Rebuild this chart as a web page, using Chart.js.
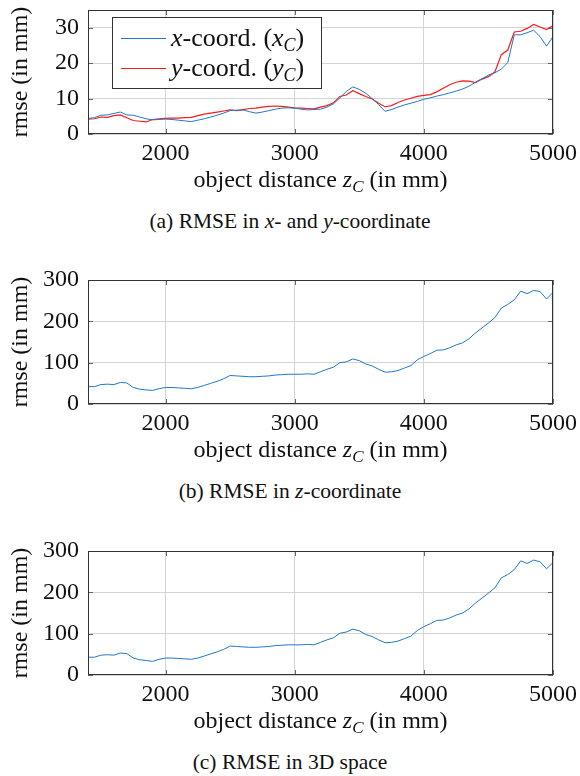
<!DOCTYPE html>
<html>
<head>
<meta charset="utf-8">
<script src="https://cdn.jsdelivr.net/npm/chart.js@4"></script>
<style>
  body { margin: 0; background: #fff; }
  .panel { position: absolute; left: 0; width: 580px; height: 270px; }
  .panel canvas { position: absolute; left: 0; top: 0; }
  .caption { position: absolute; left: 0; width: 580px; text-align: center;
             font: 21.5px 'Liberation Serif', serif; color: #111; }
</style>
</head>
<body>
<div class="panel" style="top:0px">
  <canvas id="chartA" width="580" height="200"></canvas>
  <div class="caption" style="top:209px">(a) RMSE in <i>x</i>- and <i>y</i>-coordinate</div>
</div>
<div class="panel" style="top:270px">
  <canvas id="chartB" width="580" height="200"></canvas>
  <div class="caption" style="top:209px">(b) RMSE in <i>z</i>-coordinate</div>
</div>
<div class="panel" style="top:541px">
  <canvas id="chartC" width="580" height="200"></canvas>
  <div class="caption" style="top:209px">(c) RMSE in 3D space</div>
</div>
<script>
const colorBlue = '#1f78c8';
const colorRed = '#ff1a1a';
const family = 'Liberation Serif';

Chart.defaults.font.family = family;

// object distance z_C (mm), shared by every curve
const distance = [
  1400, 1450, 1500, 1550, 1600, 1650, 1700, 1750, 1800, 1850,
  1900, 1950, 2000, 2050, 2100, 2150, 2200, 2250, 2300, 2350,
  2400, 2450, 2500, 2550, 2600, 2650, 2700, 2750, 2800, 2850,
  2900, 2950, 3000, 3050, 3100, 3150, 3200, 3250, 3300, 3350,
  3400, 3450, 3500, 3550, 3600, 3650, 3700, 3750, 3800, 3850,
  3900, 3950, 4000, 4050, 4100, 4150, 4200, 4250, 4300, 4350,
  4400, 4450, 4500, 4550, 4600, 4650, 4700, 4750, 4800, 4850,
  4900, 4950, 5000
];

const rmseX = [
  4.4, 4.6, 5.3, 5.4, 5.8, 6.2, 5.4, 5.3, 4.8, 4.3,
  4.0, 4.1, 4.2, 4.1, 3.9, 3.7, 3.5, 3.9, 4.3, 4.8,
  5.3, 5.9, 6.6, 6.7, 6.8, 6.3, 5.9, 6.2, 6.6, 7.0,
  7.3, 7.4, 7.3, 7.0, 6.8, 6.9, 7.0, 7.6, 8.5, 10.2,
  12.0, 13.3, 12.6, 11.5, 10.0, 8.3, 6.4, 6.9, 7.6, 8.2,
  8.7, 9.2, 9.8, 10.2, 10.7, 11.1, 11.6, 12.1, 12.7, 13.5,
  14.6, 15.6, 16.6, 17.3, 18.3, 20.2, 28.0, 28.0, 28.6, 29.3,
  27.5, 24.8, 27.5
];

const rmseY = [
  4.2, 4.3, 4.8, 4.7, 5.2, 5.4, 4.6, 3.8, 3.6, 3.4,
  4.1, 4.3, 4.4, 4.5, 4.5, 4.6, 4.7, 5.2, 5.6, 5.9,
  6.2, 6.5, 6.8, 6.6, 6.9, 7.2, 7.3, 7.6, 7.8, 7.9,
  7.8, 7.6, 7.4, 7.3, 7.2, 7.1, 7.6, 8.0, 8.8, 10.6,
  11.0, 12.2, 11.4, 10.6, 9.9, 8.7, 7.7, 8.0, 8.9, 9.6,
  10.1, 10.6, 10.9, 11.1, 11.9, 12.9, 13.9, 14.6, 15.0, 14.9,
  14.5, 15.5, 16.2, 17.5, 22.4, 23.7, 28.8, 29.0, 29.8, 30.9,
  30.2, 29.5, 30.6
];

const rmseZ = [
  42, 42, 47, 48, 47, 52, 51, 40, 36, 34,
  33, 37, 40, 40, 39, 38, 37, 40, 45, 50,
  55, 61, 69, 68, 67, 66, 66, 67, 68, 70,
  71, 72, 72, 72, 73, 72, 78, 84, 89, 100,
  102, 109, 105, 97, 92, 84, 77, 78, 81, 87,
  93, 107, 115, 122, 130, 131, 136, 143, 148, 158,
  172, 184, 196, 209, 232, 241, 252, 273, 267, 275,
  272, 254, 270
];

const rmse3d = [
  43, 43, 48, 49, 48, 53, 52, 41, 37, 35,
  33, 38, 41, 41, 40, 39, 38, 41, 46, 51,
  56, 62, 70, 69, 68, 67, 67, 68, 69, 71,
  72, 73, 73, 73, 74, 73, 79, 85, 90, 101,
  104, 111, 107, 98, 93, 85, 78, 79, 82, 88,
  94, 108, 117, 124, 132, 133, 138, 145, 150, 160,
  174, 186, 198, 211, 235, 243, 255, 276, 270, 278,
  274, 257, 272
];

const xTicks = [2000, 3000, 4000, 5000];
const yTicksXY = [0, 10, 20, 30];
const yTicksZ = [0, 100, 200, 300];

function points(values) {
  return distance.map((d, i) => ({ x: d, y: values[i] }));
}

// rich text: [text, style]  style '' = roman, 'i' = italic, 's' = italic subscript
function drawRich(ctx, parts, x, y, size, align) {
  const fontFor = p => p[1] === 's' ? `italic ${Math.round(size * 0.7)}px ${family}`
    : p[1] === 'i' ? `italic ${size}px ${family}` : `${size}px ${family}`;
  let w = 0;
  parts.forEach(p => { ctx.font = fontFor(p); w += ctx.measureText(p[0]).width; });
  let cx = align === 'center' ? x - w / 2 : x;
  ctx.textAlign = 'left';
  ctx.textBaseline = 'alphabetic';
  parts.forEach(p => {
    ctx.font = fontFor(p);
    ctx.fillText(p[0], cx, p[1] === 's' ? y + 5 : y);
    cx += ctx.measureText(p[0]).width;
  });
}

const decor = {
  id: 'decor',
  afterDatasetsDraw(chart) {
    const { ctx, chartArea: a, scales } = chart;
    ctx.save();
    // pgfplots style inner ticks
    ctx.strokeStyle = '#666';
    ctx.lineWidth = 1;
    ctx.beginPath();
    scales.x.ticks.forEach(t => {
      const px = Math.round(scales.x.getPixelForValue(t.value)) + 0.5;
      ctx.moveTo(px, a.bottom); ctx.lineTo(px, a.bottom - 5);
      ctx.moveTo(px, a.top); ctx.lineTo(px, a.top + 5);
    });
    scales.y.ticks.forEach(t => {
      const py = Math.round(scales.y.getPixelForValue(t.value)) + 0.5;
      ctx.moveTo(a.left, py); ctx.lineTo(a.left + 5, py);
      ctx.moveTo(a.right, py); ctx.lineTo(a.right - 5, py);
    });
    ctx.stroke();
    // frame
    ctx.strokeStyle = '#333';
    ctx.strokeRect(a.left + 0.5, a.top + 0.5, a.width - 1, a.height - 1);
    ctx.restore();
  },
  afterDraw(chart, args, opts) {
    const { ctx, chartArea: a } = chart;
    ctx.save();
    ctx.fillStyle = '#111';
    // x axis title
    drawRich(ctx, [['object distance ', ''], ['z', 'i'], ['C', 's'], [' (in mm)', '']],
      (a.left + a.right) / 2, 187, 24, 'center');
    // y axis title
    ctx.translate(27, (a.top + a.bottom) / 2);
    ctx.rotate(-Math.PI / 2);
    ctx.font = `24px ${family}`;
    ctx.textAlign = 'center';
    ctx.textBaseline = 'alphabetic';
    ctx.fillText('rmse (in mm)', 0, 0);
    ctx.restore();

    if (opts.legend) {
      ctx.save();
      const bx = 112, by = 17, bw = 209, bh = 71;
      ctx.fillStyle = '#fff';
      ctx.fillRect(bx, by, bw, bh);
      ctx.strokeStyle = '#333';
      ctx.lineWidth = 1;
      ctx.strokeRect(bx + 0.5, by + 0.5, bw, bh);
      chart.data.datasets.forEach((ds, i) => {
        const ly = 38 + i * 30;
        ctx.strokeStyle = ds.borderColor;
        ctx.lineWidth = ds.borderWidth;
        ctx.beginPath();
        ctx.moveTo(121, ly + 0.5); ctx.lineTo(166, ly + 0.5);
        ctx.stroke();
        ctx.fillStyle = '#111';
        drawRich(ctx, opts.legend[i], 171, ly + 8, 26, 'left');
      });
      ctx.restore();
    }
  }
};

function makeChart(id, datasets, yMax, yTicks, legend) {
  return new Chart(document.getElementById(id), {
    type: 'line',
    data: { datasets: datasets },
    plugins: [decor],
    options: {
      responsive: false,
      animation: false,
      layout: { padding: { left: 0, right: 27, top: 10, bottom: 0 } },
      elements: { point: { radius: 0 }, line: { tension: 0 } },
      plugins: {
        legend: { display: false },
        tooltip: { enabled: false },
        decor: { legend: legend }
      },
      scales: {
        x: {
          type: 'linear',
          min: 1400,
          max: 5000,
          afterBuildTicks: s => { s.ticks = xTicks.map(v => ({ value: v })); },
          afterFit: s => { s.height = 66; s.paddingLeft = 0; s.paddingRight = 0; },
          grid: { color: '#d4d4d4', lineWidth: 1, drawTicks: false },
          border: { display: false },
          ticks: { padding: 5, color: '#111', font: { family: family, size: 24 },
                   callback: v => String(v) }
        },
        y: {
          min: 0,
          max: yMax,
          afterBuildTicks: s => { s.ticks = yTicks.map(v => ({ value: v })); },
          afterFit: s => { s.width = 88; s.paddingTop = 0; s.paddingBottom = 0; },
          grid: { color: '#d4d4d4', lineWidth: 1, drawTicks: false },
          border: { display: false },
          ticks: { padding: 9, color: '#111', font: { family: family, size: 24 },
                   callback: v => String(v) }
        }
      }
    }
  });
}

makeChart('chartA', [
  { label: 'x-coord. (x_C)', data: points(rmseX), borderColor: colorBlue, borderWidth: 1 },
  { label: 'y-coord. (y_C)', data: points(rmseY), borderColor: colorRed, borderWidth: 1.2 }
], 35, yTicksXY, [
  [['x', 'i'], ['-coord. (', ''], ['x', 'i'], ['C', 's'], [')', '']],
  [['y', 'i'], ['-coord. (', ''], ['y', 'i'], ['C', 's'], [')', '']]
]);

makeChart('chartB', [
  { label: 'z', data: points(rmseZ), borderColor: colorBlue, borderWidth: 1 }
], 300, yTicksZ, null);

makeChart('chartC', [
  { label: '3D', data: points(rmse3d), borderColor: colorBlue, borderWidth: 1 }
], 300, yTicksZ, null);
</script>
</body>
</html>
